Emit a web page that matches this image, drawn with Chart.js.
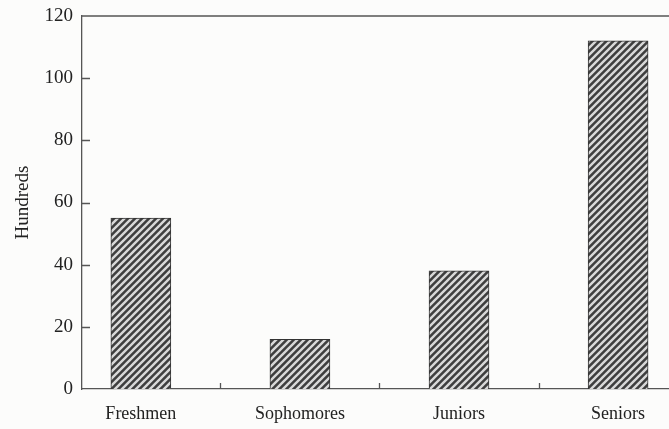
<!DOCTYPE html>
<html>
<head>
<meta charset="utf-8">
<script src="https://cdn.jsdelivr.net/npm/chart.js@4/dist/chart.umd.min.js"></script>
<style>
  html, body { margin: 0; padding: 0; background: #fcfcfb; overflow: hidden; }
  #wrap { width: 669px; height: 429px; }
</style>
</head>
<body>
<div id="wrap"><canvas id="chart" width="669" height="429"></canvas></div>
<script>
const categories = ['Freshmen', 'Sophomores', 'Juniors', 'Seniors'];
const hundreds = [55, 16, 38, 112];
const yTicks = [0, 20, 40, 60, 80, 100, 120];

// diagonal hatch like the printed original
function makeHatch() {
    const size = 7;
    const pc = document.createElement('canvas');
    pc.width = size;
    pc.height = size;
    const p = pc.getContext('2d');
    p.fillStyle = '#3e3e3e';
    p.fillRect(0, 0, size, size);
    p.strokeStyle = '#d8d8d8';
    p.lineWidth = 2.4;
    p.beginPath();
    for (let k = -1; k <= 1; k++) {
        p.moveTo(k * size - 1, size + 1);
        p.lineTo(k * size + size + 1, -1);
    }
    p.stroke();
    return p.createPattern(pc, 'repeat');
}

const axisColor = '#555';
const textColor = '#222';

const innerTicks = {
    id: 'innerTicks',
    afterDraw(chart) {
        const ctx = chart.ctx;
        const area = chart.chartArea;
        const x = chart.scales.x;
        const y = chart.scales.y;
        ctx.save();
        ctx.strokeStyle = axisColor;
        ctx.lineWidth = 1.3;
        ctx.beginPath();
        // top frame line
        ctx.moveTo(area.left, y.getPixelForValue(120));
        ctx.lineTo(area.right, y.getPixelForValue(120));
        // y ticks pointing inward
        yTicks.slice(1, -1).forEach(v => {
            const py = Math.round(y.getPixelForValue(v)) + 0.5;
            ctx.moveTo(area.left, py);
            ctx.lineTo(area.left + 8, py);
        });
        // category separators on x axis
        for (let i = 0; i < categories.length - 1; i++) {
            const px = Math.round(x.getPixelForValue(i + 0.5)) + 0.5;
            ctx.moveTo(px, area.bottom);
            ctx.lineTo(px, area.bottom - 6);
        }
        ctx.stroke();
        ctx.restore();
    }
};

const ctx = document.getElementById('chart').getContext('2d');
new Chart(ctx, {
    type: 'bar',
    data: {
        datasets: [{
            data: hundreds.map((v, i) => ({ x: i, y: v })),
            backgroundColor: makeHatch(),
            borderColor: '#333',
            borderWidth: 1,
            barThickness: 60
        }]
    },
    options: {
        responsive: false,
        animation: false,
        layout: { padding: { top: 16, right: 0, left: 0, bottom: 0 } },
        plugins: { legend: { display: false }, tooltip: { enabled: false } },
        scales: {
            x: {
                type: 'linear',
                offset: false,
                min: -0.37,
                max: 3.32,
                afterBuildTicks: scale => { scale.ticks = categories.map((c, i) => ({ value: i })); },
                afterFit: scale => { scale.height = 40; },
                grid: { display: false, drawTicks: false, tickLength: 0 },
                border: { display: true, color: axisColor, width: 1.3 },
                ticks: {
                    autoSkip: false,
                    maxRotation: 0,
                    padding: 14,
                    color: textColor,
                    font: { family: 'Liberation Serif', size: 18 },
                    callback: v => categories[v]
                }
            },
            y: {
                min: 0,
                max: 120,
                afterBuildTicks: scale => { scale.ticks = yTicks.map(v => ({ value: v })); },
                afterFit: scale => {
                    scale.width = 82;
                    scale.paddingTop = 0;
                    scale.paddingBottom = 0;
                },
                grid: { display: false, drawTicks: false, tickLength: 0 },
                border: { display: true, color: axisColor, width: 1.3 },
                ticks: {
                    padding: 9,
                    color: textColor,
                    font: { family: 'Liberation Serif', size: 19 }
                },
                title: {
                    display: true,
                    text: 'Hundreds',
                    color: textColor,
                    font: { family: 'Liberation Serif', size: 19 },
                    padding: { top: 12, bottom: 0 }
                }
            }
        }
    },
    plugins: [innerTicks]
});
</script>
</body>
</html>
